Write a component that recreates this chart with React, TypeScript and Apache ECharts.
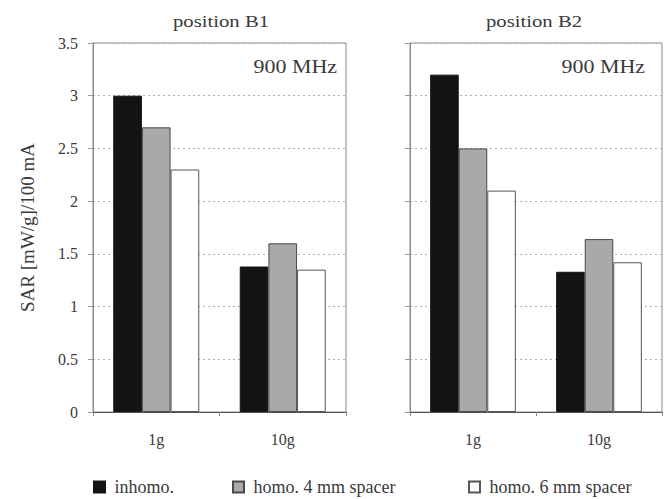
import React, { useEffect, useRef } from 'react';
import * as echarts from 'echarts';

const categories = ['1g', '10g'];
const seriesNames = ['inhomo.', 'homo. 4 mm spacer', 'homo. 6 mm spacer'];
const panelTitles = ['position B1', 'position B2'];
const frequencyLabel = '900 MHz';
const yAxisName = 'SAR [mW/g]/100 mA';

const b1Inhomo = [3.0, 1.38];
const b1Homo4 = [2.7, 1.6];
const b1Homo6 = [2.3, 1.35];
const b2Inhomo = [3.2, 1.33];
const b2Homo4 = [2.5, 1.64];
const b2Homo6 = [2.1, 1.42];

const FONT = 'Liberation Serif';
const TEXT = '#3a3a3a';

const barStyles = [
  { color: '#141414', borderColor: '#141414', borderWidth: 1 },
  { color: '#a9a9a9', borderColor: '#4a4a4a', borderWidth: 1 },
  { color: '#ffffff', borderColor: '#555555', borderWidth: 1 },
];

export default function App() {
  const ref = useRef<HTMLDivElement>(null);

  useEffect(() => {
    if (!ref.current) return;
    const chart = echarts.init(ref.current, undefined, { renderer: 'svg' });

    const grids = [
      { left: 93, top: 43, width: 253, height: 369 },
      { left: 410, top: 43, width: 252, height: 369 },
    ];

    const panelData = [
      [b1Inhomo, b1Homo4, b1Homo6],
      [b2Inhomo, b2Homo4, b2Homo6],
    ];

    const series: any[] = [];
    panelData.forEach((panel, gi) => {
      panel.forEach((vals, si) => {
        series.push({
          type: 'bar',
          name: seriesNames[si],
          xAxisIndex: gi,
          yAxisIndex: gi,
          data: vals,
          barGap: '0%',
          barCategoryGap: '32%',
          itemStyle: barStyles[si],
          emphasis: { disabled: true },
        });
      });
    });

    const legendLefts = [93, 232, 468];

    const textEl = (text: string, x: number, y: number, size: number, align: string) => ({
      type: 'text',
      x,
      y,
      scaleX: 1.22,
      style: {
        text,
        fontFamily: FONT,
        fontSize: size,
        fill: TEXT,
        textAlign: align,
        textVerticalAlign: 'middle',
      },
    });

    chart.setOption({
      animation: false,
      backgroundColor: '#ffffff',
      grid: grids.map((g) => ({
        ...g,
        show: true,
        borderColor: '#8a8a8a',
        borderWidth: 1,
        backgroundColor: 'transparent',
        containLabel: false,
      })),
      xAxis: grids.map((_, i) => ({
        type: 'category',
        gridIndex: i,
        data: categories,
        axisLine: { show: true, lineStyle: { color: '#555', width: 1 } },
        axisTick: { show: true, length: 4, lineStyle: { color: '#888' } },
        axisLabel: {
          margin: 19,
          fontFamily: FONT,
          fontSize: 16,
          color: TEXT,
        },
        splitLine: { show: false },
      })),
      yAxis: grids.map((_, i) => ({
        type: 'value',
        gridIndex: i,
        min: 0,
        max: 3.5,
        interval: 0.5,
        name: i === 0 ? yAxisName : '',
        nameLocation: 'middle',
        nameGap: 56,
        nameTextStyle: { fontFamily: FONT, fontSize: 19, color: TEXT },
        axisLine: { show: true, lineStyle: { color: '#8a8a8a', width: 1 } },
        axisTick: { show: true, length: 5, lineStyle: { color: '#999' } },
        axisLabel: {
          show: i === 0,
          margin: 15,
          fontFamily: FONT,
          fontSize: 16,
          color: TEXT,
        },
        splitLine: {
          show: true,
          lineStyle: { color: '#b0b0b0', type: [2, 3], width: 1 },
        },
      })),
      legend: seriesNames.map((name, i) => ({
        data: [name],
        left: legendLefts[i],
        top: 478,
        padding: 0,
        itemWidth: 11,
        itemHeight: 11,
        icon: 'rect',
        selectedMode: false,
        formatter: (n: string) => ' ' + n,
        textStyle: {
          fontFamily: FONT,
          fontSize: 18,
          color: TEXT,
        },
      })),
      graphic: [
        textEl(panelTitles[0], 221, 21, 17, 'center'),
        textEl(panelTitles[1], 534, 21, 17, 'center'),
        textEl(frequencyLabel, 337, 67, 18, 'right'),
        textEl(frequencyLabel, 645, 67, 18, 'right'),
      ],
      series,
    });

    return () => chart.dispose();
  }, []);

  return <div ref={ref} style={{ width: 671, height: 499, position: 'absolute', left: 0, top: 0 }} />;
}
